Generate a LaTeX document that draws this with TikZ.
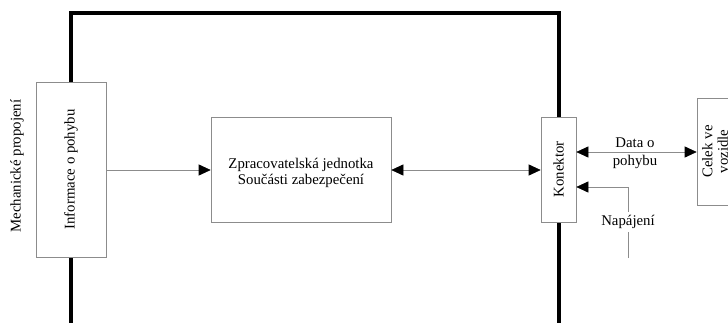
\documentclass[tikz,border=0pt]{standalone}
\usepackage{fontspec}
\setmainfont{Liberation Serif}
\usetikzlibrary{arrows.meta}
\begin{document}
\begin{tikzpicture}[x=1bp,y=-1bp,
    font=\fontsize{14.8bp}{15.5bp}\selectfont,
    blok/.style={draw=black!45,line width=0.6bp,fill=white,inner sep=0pt,align=center},
    spoj/.style={draw=black!45,line width=0.6bp},
    hrot/.tip={Triangle[length=12bp,width=11bp,color=black]}]
      \useasboundingbox (0,0) rectangle (728,322);
      \clip (0,0) rectangle (728,322);
      \draw[line width=3.5bp] (71,330) -- (71,13) -- (559,13) -- (559,330);
      \node[rotate=90] (mech) at (17,166) {Mechanické propojení};
      \node[blok,minimum width=70bp,minimum height=175bp] (info) at (71,169.5) {};
      \node[rotate=90] at (info.center) {Informace o pohybu};
      \node[blok,minimum width=180bp,minimum height=105bp] (jedn) at (301,169.5) {};
      \node[align=center] at (301,173) {Zpracovatelská jednotka\\Součásti zabezpečení};
      \node[blok,minimum width=35bp,minimum height=105bp] (kon) at (558.5,169.5) {};
      \node[rotate=90] at (kon.center) {Konektor};
      \node[blok,minimum width=36bp,minimum height=107bp] (celek) at (715,151.5) {};
      \node[rotate=90,align=center] at (celek.center) {Celek ve\\vozidle};
      \coordinate (datak) at (kon.east |- 0,152);
      \coordinate (datac) at (celek.west |- 0,152);
      \coordinate (nap) at (628,258);
      \coordinate (napk) at (kon.east |- 0,187);
      \draw[spoj,-hrot] (info.east |- 0,170) -- (jedn.west |- 0,170);
      \draw[spoj,hrot-hrot] (jedn.east |- 0,170) -- (kon.west |- 0,170);
      \draw[spoj,hrot-hrot] (datak) -- (datac);
      \node[align=center,font=\fontsize{14.8bp}{18bp}\selectfont] (data) at (635,153) {Data o\\pohybu};
      \draw[spoj,-hrot] (nap) |- (napk);
      \node[fill=white,inner xsep=1bp,inner ysep=3bp] (napl) at (628,222) {Napájení};
\end{tikzpicture}
\end{document}
